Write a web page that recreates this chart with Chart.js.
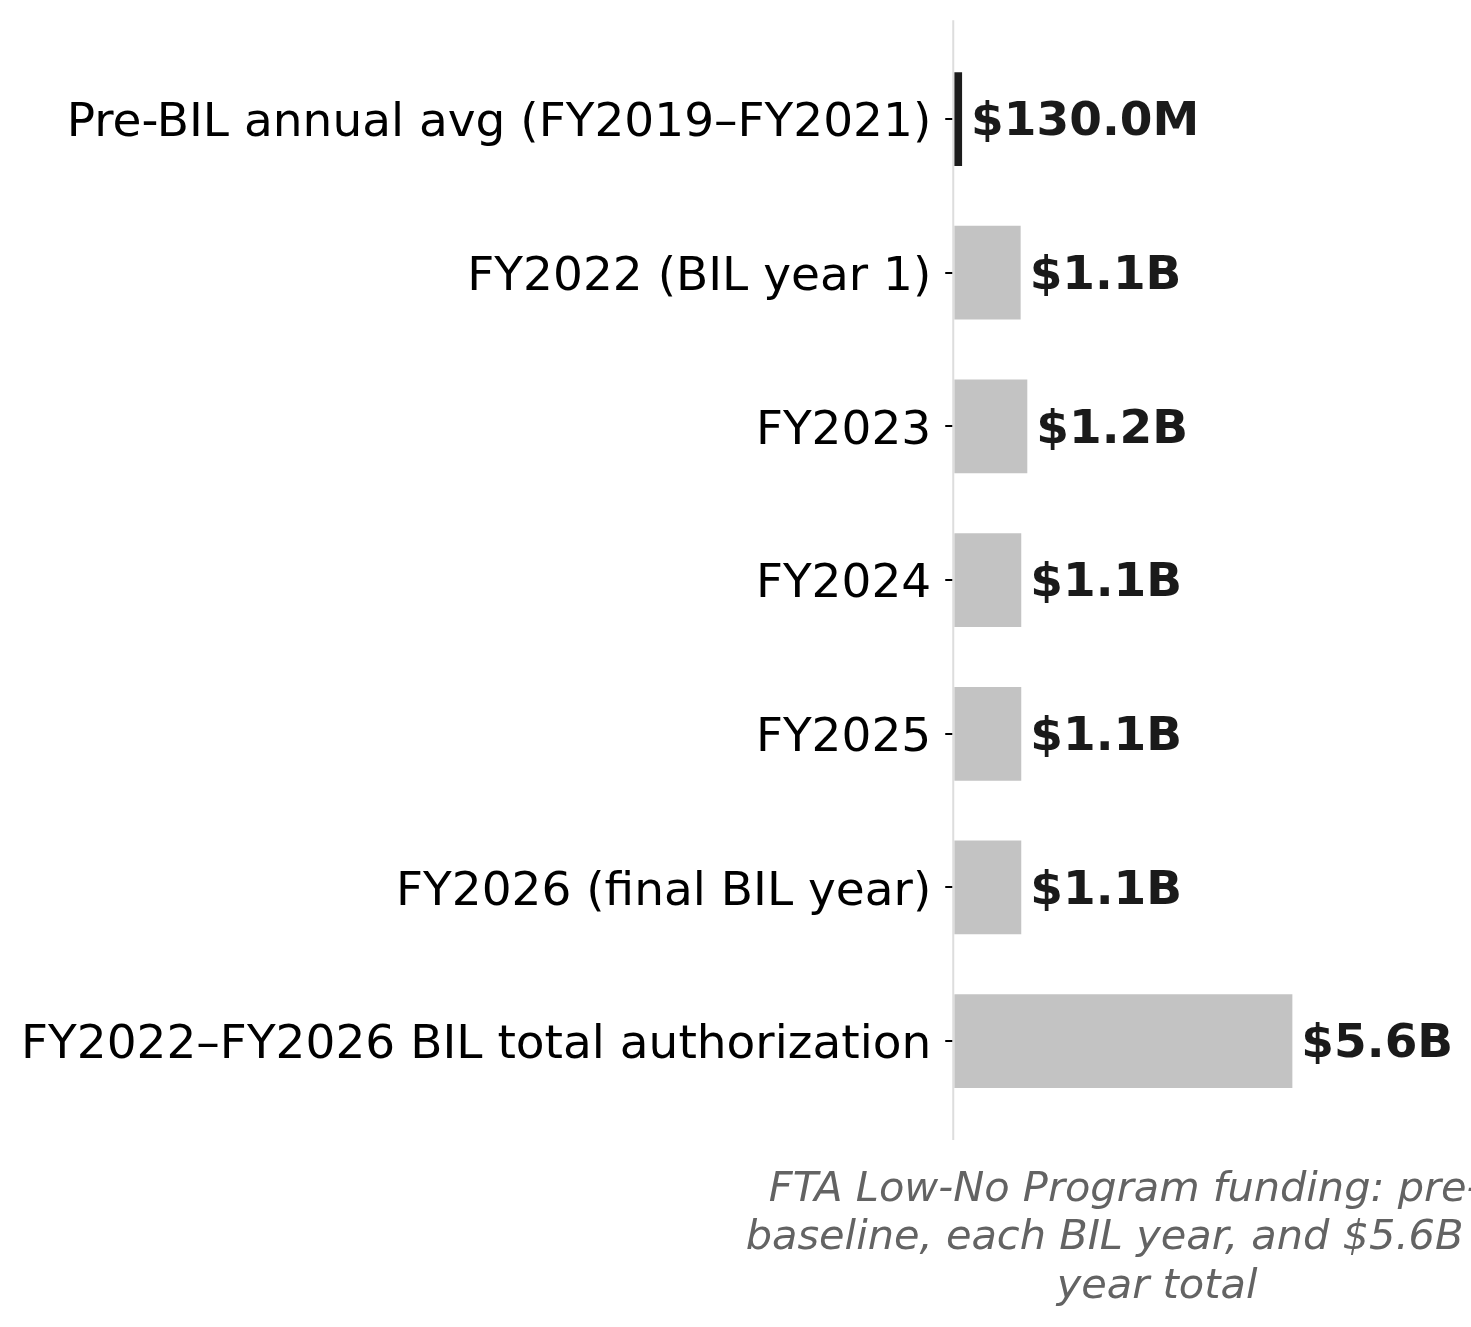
<!DOCTYPE html>
<html>
<head>
<meta charset="utf-8">
<script src="https://cdn.jsdelivr.net/npm/chart.js@4.4.1/dist/chart.umd.min.js"></script>
<style>
  html, body { margin: 0; padding: 0; background: #ffffff; }
  canvas { display: block; }
</style>
</head>
<body>
<canvas id="chart" width="1471" height="1327"></canvas>
<script>
// categories, top to bottom
let categories = [
    "Pre-BIL annual avg (FY2019\u2013FY2021)",
    "FY2022 (BIL year 1)",
    "FY2023",
    "FY2024",
    "FY2025",
    "FY2026 (final BIL year)",
    "FY2022\u2013FY2026 BIL total authorization"
];
// funding in $ billions
let fundingBillions = [0.13, 1.10, 1.21, 1.11, 1.11, 1.11, 5.6];
let captionLines = [
    "FTA Low-No Program funding: pre-BIL",
    "baseline, each BIL year, and $5.6B five-",
    "year total"
];

const FONT = "'DejaVu Sans', 'Liberation Sans', sans-serif";
const LABEL_SIZE = 47;
const CAPTION_SIZE = 41.5;

function formatMoney(v) {
    if (v < 1) return "$" + (v * 1000).toFixed(1) + "M";
    return "$" + v.toFixed(1) + "B";
}

// light axis line a bit longer than the plot area (matplotlib margins)
let axisLine = {
    id: "axisLine",
    beforeDatasetsDraw(chart) {
        let ctx = chart.ctx;
        let area = chart.chartArea;
        let x = chart.scales.x.getPixelForValue(0);
        let step = (area.bottom - area.top) / categories.length;
        let ext = step * 0.143;
        ctx.save();
        ctx.strokeStyle = "#dddddd";
        ctx.lineWidth = 2;
        ctx.beginPath();
        ctx.moveTo(x - 1, area.top - ext);
        ctx.lineTo(x - 1, area.bottom + ext);
        ctx.stroke();
        ctx.restore();
    }
};

// bold value labels at the end of each bar
let valueLabels = {
    id: "valueLabels",
    afterDatasetsDraw(chart) {
        let ctx = chart.ctx;
        let meta = chart.getDatasetMeta(0);
        ctx.save();
        ctx.font = "bold " + LABEL_SIZE + "px " + FONT;
        ctx.fillStyle = "#1a1a1a";
        ctx.textAlign = "left";
        ctx.textBaseline = "middle";
        meta.data.forEach((bar, i) => {
            ctx.fillText(formatMoney(fundingBillions[i]), bar.x + 9, bar.y + 4);
        });
        ctx.restore();
    }
};

// italic caption under the plot, centred on it and free to run off the canvas
let caption = {
    id: "caption",
    afterDraw(chart) {
        let ctx = chart.ctx;
        let area = chart.chartArea;
        let cx = (area.left + area.right) / 2;
        let lineH = CAPTION_SIZE * 1.17;
        ctx.save();
        ctx.font = "italic " + CAPTION_SIZE + "px " + FONT;
        ctx.fillStyle = "#636363";
        ctx.textAlign = "center";
        ctx.textBaseline = "middle";
        captionLines.forEach((line, i) => {
            ctx.fillText(line, cx, area.bottom + 72 + i * lineH);
        });
        ctx.restore();
    }
};

let canva = document.getElementById("chart");
let chart = new Chart(canva, {
    type: "bar",
    data: {
        labels: categories,
        datasets: [{
            data: fundingBillions,
            backgroundColor: (c) => c.dataIndex === 0 ? "#1c1c1c" : "#c3c3c3",
            borderWidth: 0,
            categoryPercentage: 1.0,
            barPercentage: 0.61
        }]
    },
    options: {
        indexAxis: "y",
        responsive: false,
        animation: false,
        devicePixelRatio: 1,
        layout: {
            padding: { top: 40, right: 111, bottom: 209, left: 21 }
        },
        scales: {
            x: {
                display: false,
                min: 0,
                max: 6.72
            },
            y: {
                type: "category",
                ticks: {
                    color: "#000000",
                    font: { family: FONT, size: LABEL_SIZE },
                    padding: 14,
                    labelOffset: 5,
                    autoSkip: false
                },
                grid: {
                    offset: false,
                    drawOnChartArea: false,
                    color: "#000000",
                    lineWidth: 2,
                    tickLength: 9
                },
                border: { display: false },
                afterFit(scale) {
                    let ctx = scale.ctx;
                    ctx.save();
                    ctx.font = LABEL_SIZE + "px " + FONT;
                    let widest = Math.max(...categories.map(c => ctx.measureText(c).width));
                    ctx.restore();
                    scale.width = widest + 23;
                }
            }
        },
        plugins: {
            legend: { display: false },
            tooltip: { enabled: false }
        }
    },
    plugins: [axisLine, valueLabels, caption]
});
</script>
</body>
</html>
